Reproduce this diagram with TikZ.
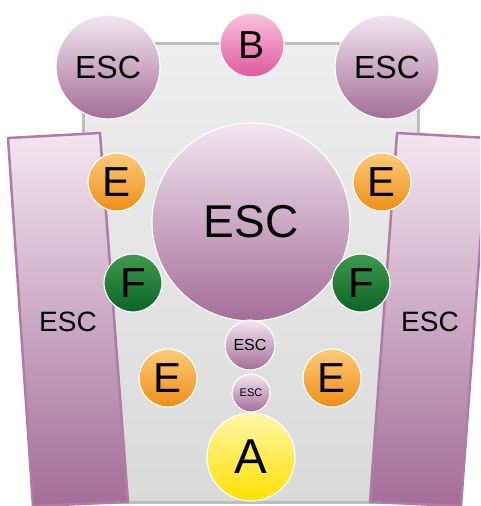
\documentclass[tikz,border=0pt]{standalone}
\usepackage{fontspec}
\setmainfont{Liberation Sans}
\usetikzlibrary{calc}

\definecolor{esctop}{HTML}{F3E6F0}
\definecolor{escmid}{HTML}{C49BBB}
\definecolor{escbot}{HTML}{A46D98}
\definecolor{escline}{HTML}{B07CA5}
\definecolor{paneltop}{HTML}{EEEEEE}
\definecolor{panelbot}{HTML}{DADADA}
\definecolor{panelline}{HTML}{BDBDBD}
\definecolor{btop}{HTML}{F8C3DD}
\definecolor{bbot}{HTML}{E2579E}
\definecolor{etop}{HTML}{FCCB78}
\definecolor{ebot}{HTML}{EF8D16}
\definecolor{ftop}{HTML}{3F9A4E}
\definecolor{fbot}{HTML}{0B6426}
\definecolor{atop}{HTML}{FFF7A8}
\definecolor{abot}{HTML}{FFE000}

\tikzset{
  ball/.style={circle, inner sep=0pt, draw=white, line width=1.2pt, text=black},
  escball/.style={ball, top color=esctop, middle color=escmid, bottom color=escbot},
  bball/.style={ball, top color=btop, bottom color=bbot, minimum size=64pt,
    font=\fontsize{39}{39}\selectfont},
  eball/.style={ball, top color=etop, bottom color=ebot, minimum size=58pt,
    font=\fontsize{42}{42}\selectfont},
  fball/.style={ball, top color=ftop, bottom color=fbot, minimum size=58pt,
    font=\fontsize{42}{42}\selectfont},
  aball/.style={ball, top color=atop, bottom color=abot, minimum size=88pt,
    font=\fontsize{49}{49}\selectfont},
  slab/.style={draw=escline, line width=2.5pt, line join=round, top color=esctop, bottom color=escbot},
}

\begin{document}
\begin{tikzpicture}[x=1pt,y=-1pt]
\useasboundingbox (0,0) rectangle (480,506);
\clip (0,0) rectangle (480,506);
\draw[panelline, line width=3pt, top color=paneltop, bottom color=panelbot] (83,43) rectangle (418,502);
\draw[slab] (8,138) -- (100,133) -- (128,502) -- (33,506) -- cycle;
\draw[slab] (397,133) -- (488,138) -- (461,506) -- (370,502) -- cycle;
\node (escL) at (68,322) {\fontsize{28}{28}\selectfont ESC};
\node (escR) at (430,322) {\fontsize{28}{28}\selectfont ESC};

\node[escball, minimum size=104pt, font=\fontsize{32}{32}\selectfont] (escTL) at (108,67) {ESC};
\node[escball, minimum size=104pt, font=\fontsize{32}{32}\selectfont] (escTR) at (387,67) {ESC};
\node[bball] (nodeB) at (252,45) {B};
\node[escball, minimum size=198pt, font=\fontsize{46}{46}\selectfont] (escBig) at (251,222) {ESC};
\node[escball, minimum size=50pt, font=\fontsize{16}{16}\selectfont] (escS1) at (250,345) {ESC};
\node[escball, minimum size=38pt, font=\fontsize{11}{11}\selectfont] (escS2) at (251,393) {ESC};
\node[aball] (nodeA) at (251,457) {A};

\foreach \nm/\x/\y in {eTL/117/182, eTR/382/182, eBL/168/378, eBR/332/378}
  \node[eball] (\nm) at (\x,\y) {E};
\foreach \nm/\x in {fL/133, fR/361}
  \node[fball] (\nm) at (\x,283) {F};
\end{tikzpicture}
\end{document}
